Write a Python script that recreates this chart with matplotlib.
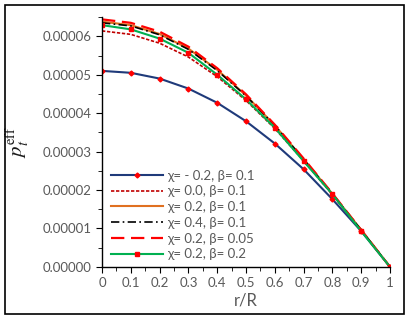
import matplotlib
matplotlib.use("Agg")
import matplotlib.pyplot as plt
from matplotlib.patches import Rectangle
from matplotlib.ticker import FuncFormatter, MultipleLocator

# radial coordinate and effective tangential pressure (units of 1e-5)
r = [0.0, 0.1, 0.2, 0.3, 0.4, 0.5, 0.6, 0.7, 0.8, 0.9, 1.0]
p_m02_b01 = [5.10, 5.05, 4.90, 4.64, 4.27, 3.79, 3.21, 2.54, 1.76, 0.93, 0.0]
p_00_b01 = [6.14, 6.05, 5.82, 5.46, 4.95, 4.33, 3.60, 2.76, 1.88, 0.95, 0.0]
p_02_b01 = [6.38, 6.29, 6.06, 5.68, 5.13, 4.46, 3.68, 2.80, 1.90, 0.96, 0.0]
p_04_b01 = [6.35, 6.27, 6.04, 5.66, 5.11, 4.45, 3.68, 2.80, 1.90, 0.96, 0.0]
p_02_b005 = [6.44, 6.35, 6.12, 5.73, 5.17, 4.49, 3.70, 2.82, 1.91, 0.96, 0.0]
p_02_b02 = [6.29, 6.18, 5.94, 5.57, 5.00, 4.36, 3.62, 2.75, 1.89, 0.93, 0.0]

labels = ["χ= - 0.2, β= 0.1", "χ= 0.0, β= 0.1", "χ= 0.2, β= 0.1",
          "χ= 0.4, β= 0.1", "χ= 0.2, β= 0.05", "χ= 0.2, β= 0.2"]

plt.rcParams["font.family"] = ["Lato", "DejaVu Sans"]
plt.rcParams["mathtext.fontset"] = "stix"


def sc(v):
    return [x * 1e-5 for x in v]


fig = plt.figure(figsize=(4.08, 3.22), dpi=100)
ax = fig.add_axes([0.25, 0.171, 0.706, 0.776])

ax.plot(r, sc(p_m02_b01), color="#1f3a7a", lw=1.5, marker="D", ms=2.5,
        mfc="red", mec="red", label=labels[0])
ax.plot(r, sc(p_00_b01), color="#c00000", lw=1.2, ls=(0, (2, 1)),
        label=labels[1])
ax.plot(r, sc(p_02_b01), color="#e07020", lw=1.5, label=labels[2])
ax.plot(r, sc(p_04_b01), color="black", lw=1.2, ls=(0, (5, 2, 1, 2)),
        label=labels[3])
ax.plot(r, sc(p_02_b005), color="#ff0000", lw=1.6, ls=(0, (6, 3)),
        label=labels[4])
ax.plot(r, sc(p_02_b02), color="#00b050", lw=1.5, marker="s", ms=3.5,
        mfc="red", mec="red", label=labels[5])

ax.set_xlim(0, 1)
ax.set_ylim(0, 6.5e-5)
ax.xaxis.set_major_locator(MultipleLocator(0.1))
ax.xaxis.set_minor_locator(MultipleLocator(0.05))
ax.yaxis.set_major_locator(MultipleLocator(1e-5))
ax.yaxis.set_minor_locator(MultipleLocator(0.5e-5))
ax.xaxis.set_major_formatter(FuncFormatter(lambda v, _: f"{v:g}"))
ax.yaxis.set_major_formatter(FuncFormatter(lambda v, _: f"{v:.5f}"))

for s in ("top", "right"):
    ax.spines[s].set_visible(False)
for s in ("left", "bottom"):
    ax.spines[s].set_linewidth(1.0)
ax.tick_params(which="both", direction="out", colors="black",
               labelcolor="#595959", labelsize=9.5)
ax.tick_params(which="major", length=4)
ax.tick_params(which="minor", length=3)

ax.set_xlabel("r/R", fontsize=12, color="#595959", labelpad=2)
ax.set_ylabel(r"$p_t^{\mathrm{eff}}$", fontsize=15, color="#1a1a1a",
              labelpad=8)

ax.legend(loc="lower left", bbox_to_anchor=(0.0, -0.01), frameon=False,
          fontsize=9.5, handlelength=3.9, handletextpad=0.3,
          labelspacing=0.28, borderaxespad=0.3, labelcolor="#595959")

fig.add_artist(Rectangle((0.012, 0.025), 0.978, 0.96,
                         transform=fig.transFigure, fill=False,
                         edgecolor="black", lw=1.2))

fig.savefig("out.png", dpi=100)
